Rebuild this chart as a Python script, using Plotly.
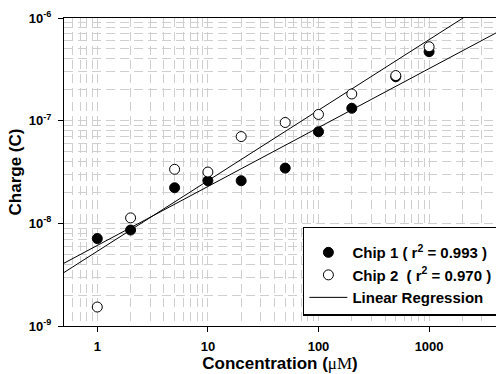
import numpy as np
import plotly.graph_objects as go

# ---- data ----
conc1 = [1, 2, 5, 10, 20, 50, 100, 200, 500, 1000]
chip1 = [7.1e-9, 8.6e-9, 2.22e-8, 2.6e-8, 2.6e-8, 3.45e-8, 7.8e-8, 1.32e-7, 2.68e-7, 4.7e-7]
conc2 = [1, 2, 5, 10, 20, 50, 100, 200, 500, 1000]
chip2 = [1.53e-9, 1.13e-8, 3.36e-8, 3.16e-8, 7.0e-8, 9.6e-8, 1.15e-7, 1.82e-7, 2.75e-7, 5.25e-7]

reg_x = [0.5, 5000]
reg1_y = [4.09e-9, 8.1e-7]      # Chip 1 fit line
reg2_y = [3.32e-9, 1.86e-6]     # Chip 2 fit line

x_ticks = [1, 10, 100, 1000]
x_ticktext = ["1", "10", "100", "1000"]
y_ticks = [1e-9, 1e-8, 1e-7, 1e-6]
y_ticktext = ["10<sup>-9</sup>", "10<sup>-8</sup>", "10<sup>-7</sup>", "10<sup>-6</sup>"]

legend_names = ["Chip 1 ( r<sup>2</sup> = 0.993 )",
                "Chip 2  ( r<sup>2</sup> = 0.970 )",
                "Linear Regression"]

FONT = "Arial, Liberation Sans, sans-serif"
GRID = "#cfcfcf"

fig = go.Figure()
fig.add_trace(go.Scatter(x=reg_x, y=reg1_y, mode="lines", line=dict(color="black", width=1),
                         name=legend_names[2], legendrank=3, showlegend=True))
fig.add_trace(go.Scatter(x=reg_x, y=reg2_y, mode="lines", line=dict(color="black", width=1),
                         name=legend_names[2], showlegend=False))
fig.add_trace(go.Scatter(x=conc1, y=chip1, mode="markers",
                         marker=dict(symbol="circle", size=10, color="black",
                                     line=dict(color="black", width=1)),
                         name=legend_names[0], legendrank=1))
fig.add_trace(go.Scatter(x=conc2, y=chip2, mode="markers",
                         marker=dict(symbol="circle", size=10, color="white",
                                     line=dict(color="black", width=1)),
                         name=legend_names[1], legendrank=2))

axis_common = dict(
    showline=True, linecolor="black", linewidth=1,
    ticks="outside", ticklen=5, tickcolor="black", tickwidth=1,
    showgrid=True, gridcolor=GRID, gridwidth=1, griddash="9px,5px",
    zeroline=False,
    tickfont=dict(family=FONT, size=13, color="black", weight="bold"),
    minor=dict(dtick="D1", showgrid=True, gridcolor=GRID, gridwidth=1,
               griddash="9px,5px", ticks=""),
)

fig.update_xaxes(type="log", range=[np.log10(0.5), 3.605],
                 tickvals=x_ticks, ticktext=x_ticktext, mirror=True,
                 ticklabelstandoff=3,
                 title=dict(text="Concentration (<span style='font-family:Liberation Serif, Times New Roman, serif;font-weight:normal'>μM</span>)",
                            font=dict(family=FONT, size=17, color="black", weight="bold"),
                            standoff=3),
                 **axis_common)
fig.update_yaxes(type="log", range=[-9, -6],
                 tickvals=y_ticks, ticktext=y_ticktext, mirror=False,
                 ticklabelstandoff=4,
                 title=dict(text="Charge (C)",
                            font=dict(family=FONT, size=17, color="black", weight="bold"),
                            standoff=2),
                 **axis_common)

fig.update_layout(
    width=496, height=374,
    margin=dict(l=64, r=0, t=18, b=48, autoexpand=False),
    plot_bgcolor="white", paper_bgcolor="white",
    font=dict(family=FONT, color="black"),
    legend=dict(x=0.553, y=0.322, xanchor="left", yanchor="top",
                bgcolor="white", bordercolor="black", borderwidth=1.5,
                font=dict(family=FONT, size=15, color="black", weight="bold"),
                title=dict(text=" ", font=dict(size=6)),
                itemwidth=38, tracegroupgap=0),
    showlegend=True,
)

fig.write_html("out.html", config={"displayModeBar": False},
               post_script="document.body.style.margin='0';document.body.style.overflow='hidden';")
